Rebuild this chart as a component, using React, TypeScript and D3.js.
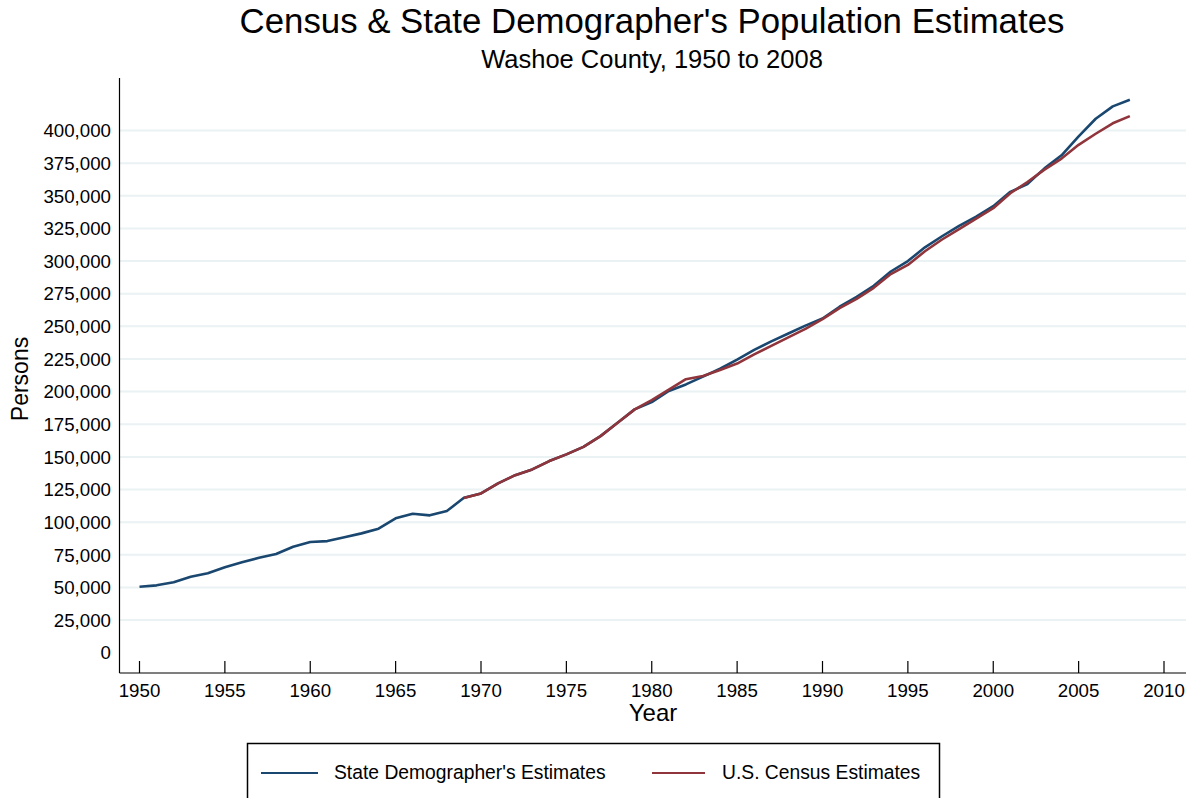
import React from "react";
import * as d3 from "d3";

const stateYears: number[] = d3.range(1950, 2009);
const stateValues: number[] = [
  50.5, 51.6, 54, 58.2, 60.8, 65.4, 69.2, 72.7, 75.6, 81.2,
  84.8, 85.5, 88.4, 91.4, 95, 102.9, 106.4, 105.2, 108.5, 118.7,
  122, 129.7, 136, 140.4, 146.8, 151.9, 157.7, 165.9, 176.1, 186.4,
  192, 200.5, 205.5, 211.5, 217.5, 224.5, 232, 238.5, 244.5, 250.5,
  256, 265, 272.5, 281, 292, 300, 310.5, 319, 327, 334,
  342, 353, 359, 371, 381, 395.5, 409, 418.5, 423.5,
].map((v) => v * 1000);

const censusYears: number[] = d3.range(1969, 2009);
const censusValues: number[] = [
  118.5, 122, 129.7, 136, 140.4, 146.8, 151.9, 157.7, 165.9, 176.1,
  186.4, 193.5, 201.5, 209.5, 212, 216.5, 221.5, 228.5, 235, 241.5,
  248, 255.5, 264, 271, 279.5, 290, 297, 307.5, 316.5, 324.5,
  332.5, 340.5, 352, 360.5, 370, 378.5, 389, 397.5, 405.5, 411,
].map((v) => v * 1000);

const xTicks: number[] = d3.range(1950, 2011, 5);
const yTicks: number[] = d3.range(0, 400001, 25000);

const title = "Census & State Demographer's Population Estimates";
const subtitle = "Washoe County, 1950 to 2008";
const xLabel = "Year";
const yLabel = "Persons";
const seriesNames = ["State Demographer's Estimates", "U.S. Census Estimates"];
const colors = ["#1a476f", "#90353b"];

export default function App() {
  const W = 1193;
  const H = 798;
  const left = 119.5;
  const right = 1186;
  const top = 78;
  const bottom = 673;

  const x = d3.scaleLinear().domain([1950, 2010]).range([139.5, 1164]);
  const y = d3.scaleLinear().domain([0, 400000]).range([652.7, 130.5]);

  const line = d3
    .line<[number, number]>()
    .x((d) => x(d[0]))
    .y((d) => y(d[1]));

  const stateData: [number, number][] = stateYears.map((yr, i) => [yr, stateValues[i]]);
  const censusData: [number, number][] = censusYears.map((yr, i) => [yr, censusValues[i]]);
  const fmt = d3.format(",");
  const font = "'Liberation Sans', Arial, sans-serif";

  return (
    <svg
      width={W}
      height={H}
      style={{ position: "absolute", left: 0, top: 0, background: "#fff" }}
      fontFamily={font}
    >
      <rect x={0} y={0} width={W} height={H} fill="#fff" />
      <text x={652} y={33} textAnchor="middle" fontSize={34.8} fill="#000">
        {title}
      </text>
      <text x={652} y={68} textAnchor="middle" fontSize={25.5} fill="#000">
        {subtitle}
      </text>

      {yTicks.map((t) => (
        <g key={t}>
          {t > 0 && (
            <line x1={left} x2={right} y1={y(t)} y2={y(t)} stroke="#eaf2f3" strokeWidth={2} />
          )}
          <text x={111} y={y(t)} dy="0.36em" textAnchor="end" fontSize={18.7} fill="#000">
            {fmt(t)}
          </text>
        </g>
      ))}

      <path d={line(stateData) || ""} fill="none" stroke={colors[0]} strokeWidth={2.6} strokeLinejoin="round" />
      <path d={line(censusData) || ""} fill="none" stroke={colors[1]} strokeWidth={2.6} strokeLinejoin="round" />

      <line x1={left} x2={left} y1={top} y2={bottom} stroke="#000" strokeWidth={1.2} />
      <line x1={left} x2={right} y1={bottom} y2={bottom} stroke="#000" strokeWidth={1.2} />

      {xTicks.map((t) => (
        <g key={t}>
          <line x1={x(t)} x2={x(t)} y1={bottom} y2={bottom - 12} stroke="#000" strokeWidth={1.2} />
          <text x={x(t)} y={697} textAnchor="middle" fontSize={18.7} fill="#000">
            {t}
          </text>
        </g>
      ))}

      <text x={653} y={721} textAnchor="middle" fontSize={24} fill="#000">
        {xLabel}
      </text>
      <text
        transform={`translate(28,379) rotate(-90)`}
        textAnchor="middle"
        fontSize={23}
        fill="#000"
      >
        {yLabel}
      </text>

      <rect x={247.5} y={743.5} width={692} height={70} fill="#fff" stroke="#000" strokeWidth={1.5} />
      <line x1={261} x2={318} y1={773} y2={773} stroke={colors[0]} strokeWidth={2} />
      <text x={334} y={779} fontSize={19.3} fill="#000">
        {seriesNames[0]}
      </text>
      <line x1={652} x2={705} y1={773} y2={773} stroke={colors[1]} strokeWidth={2} />
      <text x={722} y={779} fontSize={19.3} fill="#000">
        {seriesNames[1]}
      </text>
    </svg>
  );
}
